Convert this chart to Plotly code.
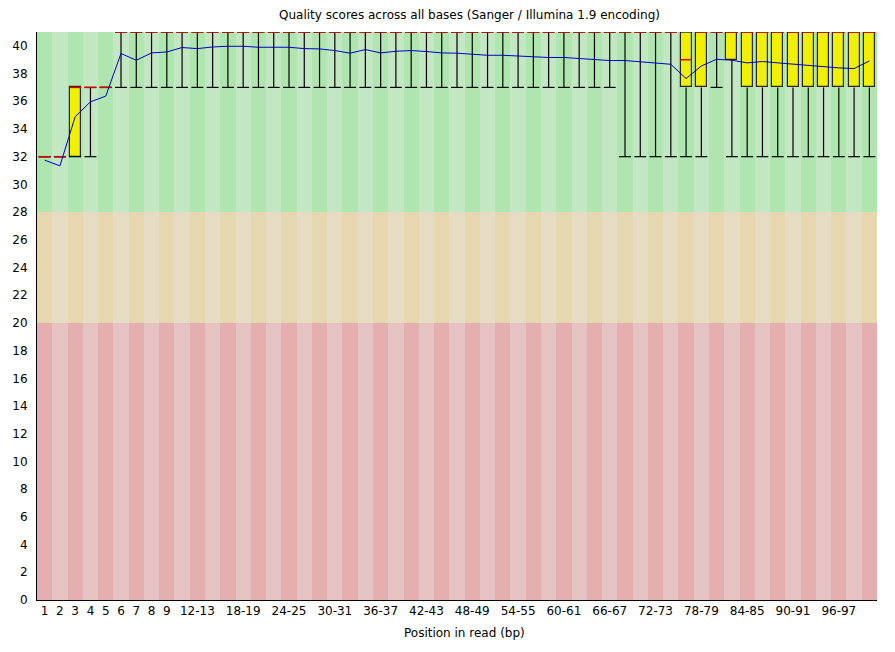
import numpy as np
import plotly.graph_objects as go

# positions in read (bp) - 1..9 single, then grouped in pairs
positions = [str(i) for i in range(1, 10)] + [f"{i}-{i + 1}" for i in range(10, 101, 2)]

# per-position quality statistics (Phred scores)
mean_q = [31.75, 31.34, 34.88, 35.96, 36.37, 39.45, 38.96, 39.49, 39.56, 39.88,
          39.80, 39.92, 39.97, 39.97, 39.90, 39.90, 39.90, 39.80, 39.78, 39.66,
          39.47, 39.73, 39.49, 39.61, 39.66, 39.59, 39.49, 39.47, 39.39, 39.32,
          39.32, 39.25, 39.23, 39.16, 39.16, 39.08, 39.01, 38.94, 38.94, 38.84,
          38.77, 38.67, 37.64, 38.55, 39.03, 38.96, 38.77, 38.87, 38.77, 38.67,
          38.58, 38.51, 38.41, 38.36, 38.91]
median_q = [32, 32, 37, 37, 37] + [41] * 37 + [39] + [41] * 12
lower_quartile = [32, 32, 32, 37, 37] + [41] * 37 + [37, 37, 41, 39] + [37] * 9
upper_quartile = [32, 32, 37, 37, 37] + [41] * 50
pct10 = [32, 32, 32, 32, 37] + [37] * 33 + [32] * 6 + [37] + [32] * 10
pct90 = [32, 32, 37, 37, 37] + [41] * 50

# quality zones: (low, high, light colour, dark colour)
zones = [
    (28, 41, "rgb(195,230,195)", "rgb(175,230,175)"),
    (20, 28, "rgb(230,220,195)", "rgb(230,215,175)"),
    (0, 20, "rgb(230,195,195)", "rgb(230,175,175)"),
]

n = len(positions)
xs = np.arange(n)
fig = go.Figure()

# striped background zones
for low, high, light, dark in zones:
    fig.add_trace(go.Bar(
        x=xs, y=[high - low] * n, base=[low] * n, width=1,
        marker=dict(color=[dark if i % 2 == 0 else light for i in range(n)], line=dict(width=0)),
        hoverinfo="skip", showlegend=False,
    ))

# whiskers (10th - 90th percentile) with caps
wx, wy = [], []
cap = 0.39
for i in range(n):
    if pct10[i] < lower_quartile[i]:
        wx += [i, i, None]
        wy += [pct10[i], lower_quartile[i], None]
    if upper_quartile[i] < pct90[i]:
        wx += [i, i, None]
        wy += [upper_quartile[i], pct90[i], None]
    wx += [i - cap, i + cap, None, i - cap, i + cap, None]
    wy += [pct10[i], pct10[i], None, pct90[i], pct90[i], None]
fig.add_trace(go.Scatter(x=wx, y=wy, mode="lines", line=dict(color="black", width=1.2),
                         hoverinfo="skip", showlegend=False))

# inter-quartile boxes
box_h = [(u - l) if u > l else None for l, u in zip(lower_quartile, upper_quartile)]
fig.add_trace(go.Bar(
    x=xs, y=box_h, base=lower_quartile, width=0.72,
    marker=dict(color="rgb(240,240,0)", line=dict(color="rgb(40,40,40)", width=1.2)),
    showlegend=False,
))

# medians
mx, my = [], []
for i in range(n):
    mx += [i - cap, i + cap, None]
    my += [median_q[i], median_q[i], None]
fig.add_trace(go.Scatter(x=mx, y=my, mode="lines", line=dict(color="rgb(220,0,0)", width=1.5),
                         hoverinfo="skip", showlegend=False))

# mean line
fig.add_trace(go.Scatter(x=xs, y=mean_q, mode="lines", line=dict(color="rgb(0,0,200)", width=1),
                         showlegend=False))

tick_idx = list(range(9)) + list(range(10, n, 3))

fig.update_layout(
    width=895, height=652,
    margin=dict(l=29, r=26, t=24, b=60),
    paper_bgcolor="white", plot_bgcolor="white",
    barmode="overlay", bargap=0,
    font=dict(family="DejaVu Sans", size=12, color="black"),
    annotations=[
        dict(text="Quality scores across all bases (Sanger / Illumina 1.9 encoding)",
             xref="paper", yref="paper", x=(470 - 37) / 840, y=1, yshift=17,
             xanchor="center", yanchor="middle", showarrow=False, font=dict(size=12)),
        dict(text="Position in read (bp)",
             xref="paper", yref="paper", x=(464 - 37) / 840, y=0, yshift=-33,
             xanchor="center", yanchor="middle", showarrow=False, font=dict(size=12)),
    ],
)
fig.update_xaxes(
    range=[-0.5, n - 0.5], tickmode="array", tickvals=tick_idx,
    ticktext=[positions[i] for i in tick_idx], showgrid=False, zeroline=False,
    showline=True, linecolor="black", linewidth=1, ticks="", tickangle=0,
    automargin=False,
)
fig.update_yaxes(
    range=[0, 41], tickmode="array", tickvals=list(range(0, 41, 2)),
    showgrid=False, zeroline=False, showline=True, linecolor="black", linewidth=1,
    ticks="", ticklabelstandoff=6, automargin=False,
)

fig.write_html("out.html")
